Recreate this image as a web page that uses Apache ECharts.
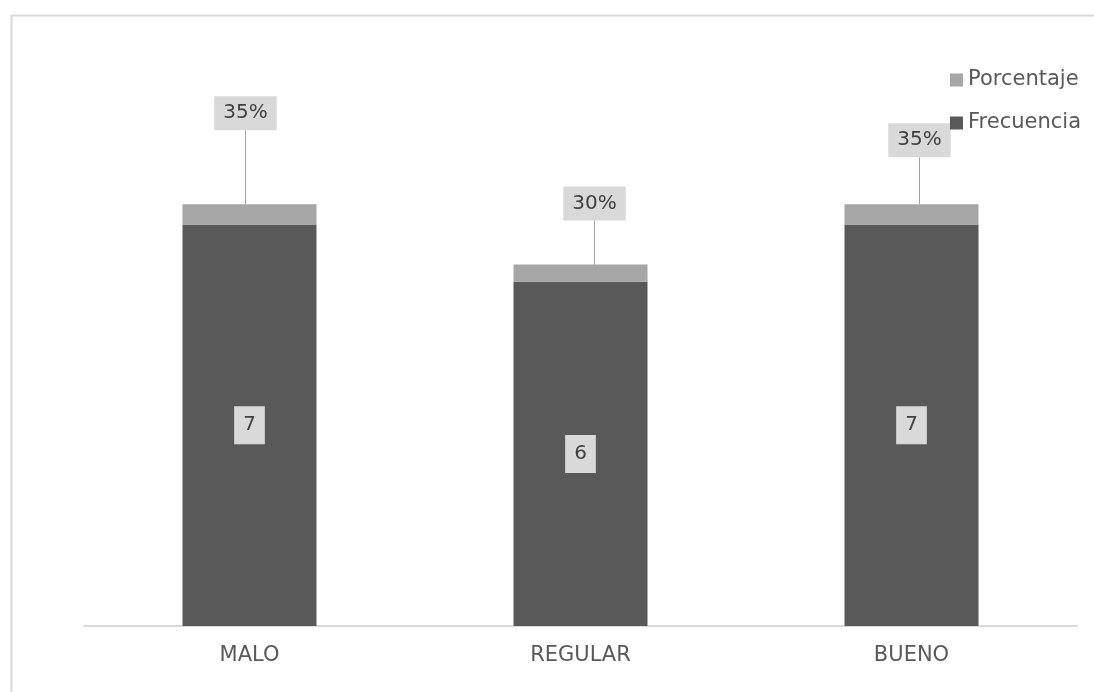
<!DOCTYPE html>
<html>
<head>
<meta charset="utf-8">
<script src="https://cdn.jsdelivr.net/npm/echarts@6/dist/echarts.min.js"></script>
<style>
html,body{margin:0;padding:0;background:#fff;}
#chart{width:1094px;height:692px;}
</style>
</head>
<body>
<div id="chart"></div>
<script>
var categories = ['MALO', 'REGULAR', 'BUENO'];
var frecuencia = [7, 6, 7];
var porcentaje = [0.35, 0.30, 0.35];
// label callout offsets (style only)
var pctLabelOffsets = [[-4, -69], [14, -39], [8, -42]];

var font = '"DejaVu Sans", "Noto Sans", sans-serif';
var chart = echarts.init(document.getElementById('chart'));
chart.setOption({
  backgroundColor: '#fff',
  animation: false,
  graphic: [{
    type: 'rect', left: 9, top: 13, silent: true,
    shape: { width: 1200, height: 800 },
    style: { fill: 'none', stroke: '#d9d9d9', lineWidth: 2 }
  }],
  grid: { left: 84, right: 17, top: 167, bottom: 66 },
  legend: {
    orient: 'vertical',
    right: 8, top: 63,
    itemWidth: 13, itemHeight: 13, itemGap: 19,
    icon: 'rect',
    data: ['Porcentaje', 'Frecuencia'],
    textStyle: { color: '#595959', fontSize: 21, fontFamily: font, lineHeight: 24 }
  },
  xAxis: {
    type: 'category',
    data: categories,
    axisLine: { lineStyle: { color: '#d9d9d9', width: 2 } },
    axisTick: { show: false },
    axisLabel: { color: '#595959', fontSize: 21, fontFamily: font, margin: 19 }
  },
  yAxis: {
    type: 'value', min: 0, max: 8,
    show: false,
    splitLine: { show: false }
  },
  series: [{
    name: 'Frecuencia',
    type: 'bar',
    stack: 'total',
    barWidth: 134,
    data: frecuencia,
    itemStyle: { color: '#595959' },
    label: {
      show: true, position: 'inside',
      color: '#404040', fontSize: 20, fontFamily: font, lineHeight: 24,
      backgroundColor: '#d9d9d9', padding: [7, 9, 7, 9]
    }
  }, {
    name: 'Porcentaje',
    type: 'bar',
    stack: 'total',
    barWidth: 134,
    data: porcentaje,
    itemStyle: { color: '#a6a6a6' },
    label: {
      show: true, position: 'top', distance: 5,
      color: '#404040', fontSize: 20, fontFamily: font, lineHeight: 24,
      backgroundColor: '#d9d9d9', padding: [5, 9, 5, 9],
      formatter: function (p) { return Math.round(p.value * 100) + '%'; }
    },
    labelLine: { show: true, lineStyle: { color: '#a0a0a0', width: 1 } },
    labelLayout: function (p) {
      var o = pctLabelOffsets[p.dataIndex];
      return { dx: o[0], dy: o[1] };
    }
  }]
});
</script>
</body>
</html>
